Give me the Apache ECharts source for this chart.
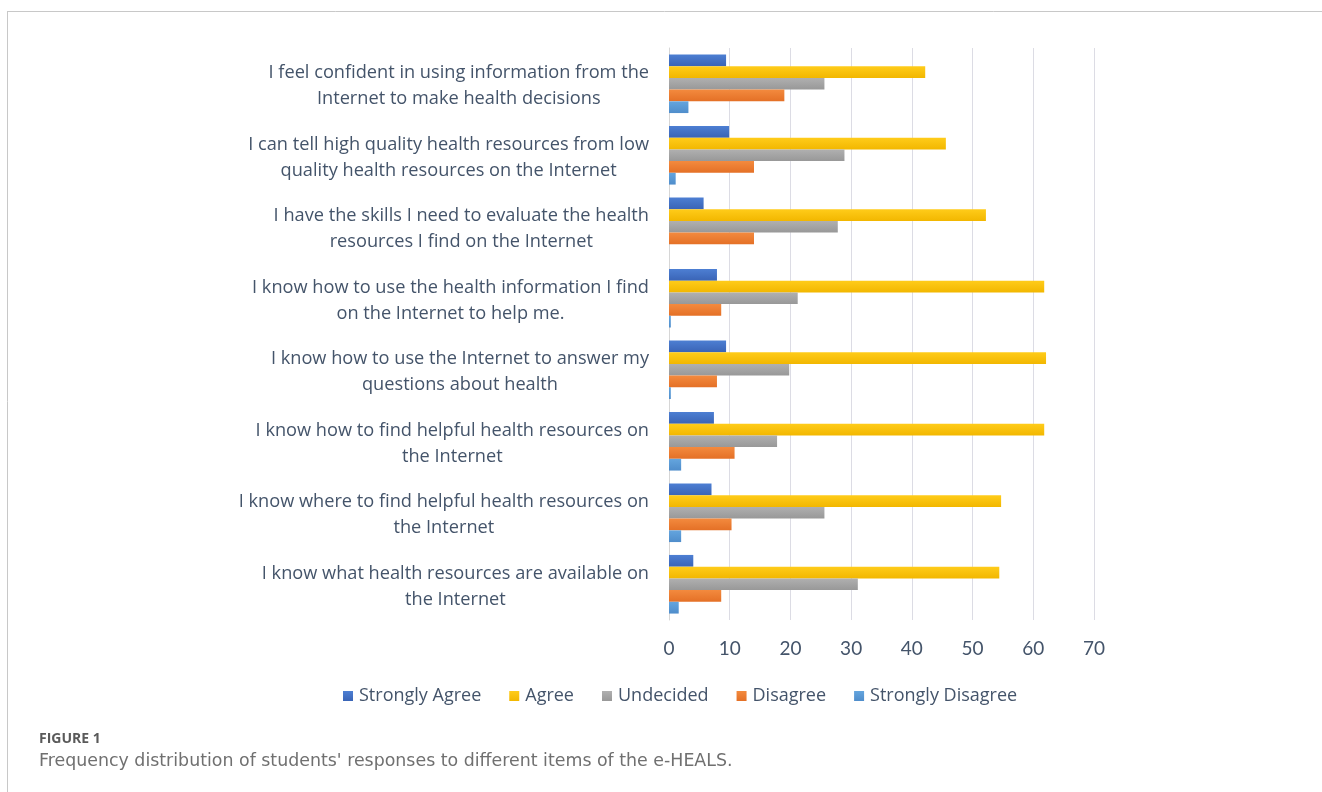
<!DOCTYPE html>
<html>
<head>
<meta charset="utf-8">
<script src="https://cdn.jsdelivr.net/npm/echarts@6/dist/echarts.min.js"></script>
<style>
  html, body { margin: 0; padding: 0; background: #fff; }
  #chart { width: 1322px; height: 792px; }
</style>
</head>
<body>
<div id="chart"></div>
<script>
// e-HEALS items, listed top to bottom
const items = [
  'I feel confident in using information from the\nInternet to make health decisions',
  'I can tell high quality health resources from low\nquality health resources on the Internet',
  'I have the skills I need to evaluate the health\nresources I find on the Internet',
  'I know how to use the health information I find\non the Internet to help me.',
  'I know how to use the Internet to answer my\nquestions about health',
  'I know how to find helpful health resources on\nthe Internet',
  'I know where to find helpful health resources on\nthe Internet',
  'I know what health resources are available on\nthe Internet'
];

// Response frequencies per item (same order as items)
const stronglyAgree    = [9.4, 9.9, 5.7, 7.9, 9.4, 7.4, 7.0, 4.0];
const agree            = [42.2, 45.6, 52.2, 61.8, 62.1, 61.8, 54.7, 54.4];
const undecided        = [25.6, 28.9, 27.8, 21.2, 19.8, 17.8, 25.6, 31.1];
const disagree         = [19.0, 14.0, 14.0, 8.6, 7.9, 10.8, 10.3, 8.6];
const stronglyDisagree = [3.2, 1.1, 0, 0.3, 0.3, 2.0, 2.0, 1.6];

const xTicks = [0, 10, 20, 30, 40, 50, 60, 70];

const seriesDefs = [
  { name: 'Strongly Agree',    data: stronglyAgree,    top: '#4d7fd3', bottom: '#3a64b6' },
  { name: 'Agree',             data: agree,            top: '#ffcc1a', bottom: '#f2b700' },
  { name: 'Undecided',         data: undecided,        top: '#b0b0b0', bottom: '#989898' },
  { name: 'Disagree',          data: disagree,         top: '#f38a3e', bottom: '#e47026' },
  { name: 'Strongly Disagree', data: stronglyDisagree, top: '#64a5de', bottom: '#4f8dcb' }
];

const legendColors = ['#4472c4', '#ffc000', '#a5a5a5', '#ed7d31', '#5b9bd5'];

const chart = echarts.init(document.getElementById('chart'));

const textColor = '#44546a';
const font = 'Open Sans';

chart.setOption({
  animation: false,
  backgroundColor: '#ffffff',
  color: legendColors,
  title: {
    text: 'FIGURE 1',
    subtext: "Frequency distribution of students' responses to different items of the e-HEALS.",
    left: 34,
    top: 727,
    itemGap: 7,
    textStyle: { fontFamily: 'Open Sans', fontSize: 14, fontWeight: 'bold', color: '#5a5a5a' },
    subtextStyle: { fontFamily: 'DejaVu Sans', fontSize: 17.4, color: '#707070' }
  },
  legend: {
    data: seriesDefs.map(s => s.name),
    left: 338,
    top: 682,
    itemWidth: 10,
    itemHeight: 10,
    itemGap: 28,
    icon: 'rect',
    textStyle: { fontFamily: font, fontSize: 18, color: textColor, padding: [0, 0, 0, 1] }
  },
  grid: { left: 669, right: 228, top: 48, bottom: 172, containLabel: false },
  xAxis: {
    type: 'value',
    min: xTicks[0],
    max: xTicks[xTicks.length - 1],
    interval: 10,
    axisLine: { show: false },
    axisTick: { show: false },
    axisLabel: { fontFamily: 'Lato', fontSize: 19, color: textColor, margin: 19 },
    splitLine: { lineStyle: { color: '#dcdce4', width: 1 } }
  },
  yAxis: {
    type: 'category',
    inverse: true,
    data: items,
    axisLine: { lineStyle: { color: '#d6d6d6', width: 1 } },
    axisTick: { show: false },
    axisLabel: {
      margin: 20,
      fontFamily: font,
      fontSize: 18.2,
      lineHeight: 26,
      padding: [5, 0, 0, 0],
      color: textColor,
      formatter: v => v.split('\n').map(l => '{c|' + l + '}').join('\n'),
      rich: { c: { align: 'center', fontFamily: font, fontSize: 18.2, lineHeight: 26, color: textColor } }
    }
  },
  series: seriesDefs.map(s => ({
    name: s.name,
    type: 'bar',
    data: s.data,
    barGap: '0%',
    barCategoryGap: '18%',
    itemStyle: {
      color: new echarts.graphic.LinearGradient(0, 0, 0, 1, [
        { offset: 0, color: s.top },
        { offset: 1, color: s.bottom }
      ])
    }
  })),
  graphic: [
    { type: 'line', shape: { x1: 7, y1: 11.5, x2: 1322, y2: 11.5 }, style: { stroke: '#c8c8c8', lineWidth: 1 } },
    { type: 'line', shape: { x1: 7.5, y1: 11, x2: 7.5, y2: 792 }, style: { stroke: '#c8c8c8', lineWidth: 1 } }
  ]
});
</script>
</body>
</html>
